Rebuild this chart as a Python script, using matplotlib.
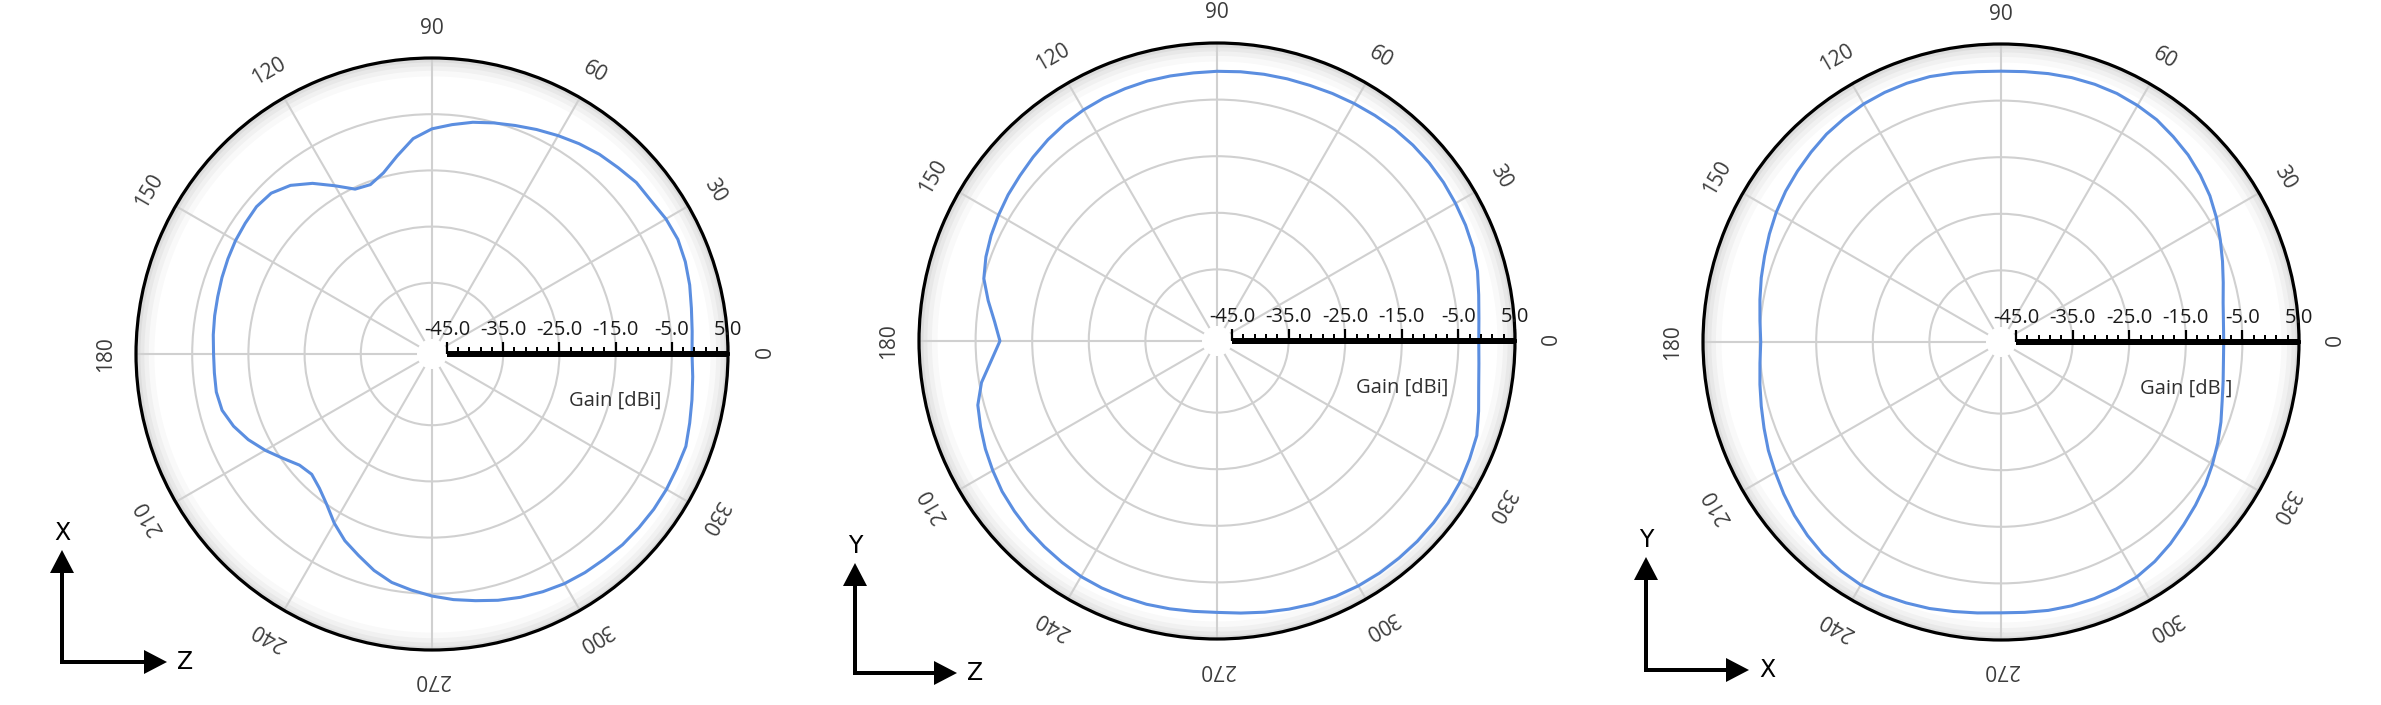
import numpy as np
import matplotlib
matplotlib.use("Agg")
import matplotlib.pyplot as plt
from matplotlib.patches import Polygon
from matplotlib.lines import Line2D
from matplotlib.markers import TICKUP

W, H, DPI = 2381, 705, 100

# ---------------- data ----------------
angles_deg = list(range(0, 360, 5))

gain_xz = [-1.4, -1.2, -0.8, -0.2, 0.3, 0.6, 0.4, -0.1, -0.2, -0.8,
           -1.3, -2.0, -2.8, -3.6, -4.4, -5.1, -5.8, -6.7, -7.6, -9.2,
           -11.9, -14.3, -15.6, -15.3, -13.1, -10.6, -8.5, -7.2, -6.9, -7.1,
           -7.3, -7.6, -7.9, -8.2, -8.4, -8.6, -8.8, -8.8, -8.7, -9.0,
           -10.1, -11.6, -13.4, -15.3, -16.9, -17.4, -16.5, -15.0, -12.9, -11.0,
           -9.5, -7.8, -6.4, -5.5, -4.6, -3.8, -3.1, -2.3, -1.6, -1.0,
           -0.5, -0.2, 0.0, 0.3, 0.4, 0.5, 0.5, 0.4, 0.4, -0.2,
           -0.7, -1.1]

gain_yz = [-1.4, -1.2, -0.7, 0.0, 0.5, 0.8, 1.0, 1.2, 1.3, 1.3,
           1.2, 1.0, 0.8, 0.6, 0.4, 0.3, 0.2, 0.1, 0.0, -0.1,
           -0.1, -0.1, -0.2, -0.3, -0.5, -0.8, -1.2, -1.7, -2.2, -2.6,
           -3.1, -3.6, -4.2, -5.0, -6.6, -8.2, -9.3, -7.6, -5.4, -3.9,
           -3.2, -2.5, -1.9, -1.3, -0.9, -0.5, -0.2, 0.1, 0.4, 0.5,
           0.5, 0.5, 0.4, 0.3, 0.3, 0.6, 1.0, 1.4, 1.8, 2.1,
           2.3, 2.4, 2.4, 2.4, 2.3, 2.2, 2.0, 1.6, 1.2, 0.2,
           -0.7, -1.2]

gain_xy = [-8.3, -8.2, -7.8, -7.0, -6.0, -4.9, -3.7, -2.6, -1.7, -0.9,
           -0.3, 0.3, 0.6, 0.8, 0.8, 0.7, 0.5, 0.3, 0.2, 0.3,
           0.6, 0.9, 1.0, 1.0, 0.9, 0.6, 0.3, -0.2, -0.7, -1.2,
           -1.8, -2.5, -3.2, -3.8, -4.4, -4.9, -5.2, -4.9, -4.4, -3.8,
           -3.1, -2.3, -1.6, -0.8, 0.0, 0.7, 1.3, 1.7, 1.9, 1.7,
           1.4, 1.1, 0.7, 0.4, 0.2, 0.3, 0.5, 0.6, 0.6, 0.5,
           0.3, -0.3, -1.1, -2.0, -2.8, -3.6, -4.5, -5.4, -6.3, -7.2,
           -7.8, -8.2]

series = [gain_xz, gain_yz, gain_xy]

r_min, r_max = -45.0, 5.0
grid_rings = [-35, -25, -15, -5]
scale_major = [-45, -35, -25, -15, -5, 5]
scale_labels = ["-45.0", "-35.0", "-25.0", "-15.0", "-5.0", "5.0"]
scale_minor = [v for v in range(-43, 5, 2) if (v + 45) % 10 != 0]
angle_ticks = list(range(0, 360, 30))
angle_labels = [str(a) for a in angle_ticks]
gain_title = "Gain [dBi]"
axis_names = [("X", "Z"), ("Y", "Z"), ("Y", "X")]

# ---------------- layout (pixels) ----------------
panels = [
    dict(cx=432, cy=354, R=296, corner=(62, 662), up=112, right=105),
    dict(cx=1217, cy=341, R=298, corner=(855, 673), up=110, right=102),
    dict(cx=2001, cy=342, R=298, corner=(1646, 670), up=113, right=103),
]
HOLE_PX = 15
PT = 72.0 / DPI

LINE_COLOR = "#5b8ee0"
GRID_COLOR = "#d0d0d0"
TXT_FONT = ["Open Sans", "DejaVu Sans"]
LABEL_FS = 14.5
ANGLE_FS = 15

fig = plt.figure(figsize=(W / DPI, H / DPI), dpi=DPI)
fig.patch.set_facecolor("white")

# overlay for the coordinate arrows
ov = fig.add_axes([0, 0, 1, 1])
ov.set_xlim(0, W)
ov.set_ylim(H, 0)
ov.axis("off")


def draw_arrow(x0, y0, x1, y1):
    dx, dy = x1 - x0, y1 - y0
    L = np.hypot(dx, dy)
    ux, uy = dx / L, dy / L
    hl, hw = 23, 12
    bx, by = x1 - ux * hl, y1 - uy * hl
    ov.add_line(Line2D([x0, bx + ux * 2], [y0, by + uy * 2], color="black", lw=4 * PT,
                       solid_capstyle="projecting"))
    px, py = -uy, ux
    ov.add_patch(Polygon([[x1, y1], [bx + px * hw, by + py * hw], [bx - px * hw, by - py * hw]],
                         closed=True, color="black", lw=0))


theta_dense = np.linspace(0, 2 * np.pi, 721)

for p, gains, names in zip(panels, series, axis_names):
    cx, cy, R = p["cx"], p["cy"], p["R"]
    ax = fig.add_axes([(cx - R) / W, (H - cy - R) / H, 2 * R / W, 2 * R / H],
                      projection="polar")
    px_per_db = (R - HOLE_PX) / (r_max - r_min)
    ax.set_theta_zero_location("E")
    ax.set_theta_direction(1)
    ax.set_rlim(r_min, r_max)
    ax.set_rorigin(r_min - HOLE_PX / px_per_db)
    ax.set_rticks(grid_rings)
    ax.set_yticklabels([])
    ax.set_thetagrids(angle_ticks, labels=[""] * len(angle_ticks))
    ax.grid(True, color=GRID_COLOR, lw=1.5)
    ax.tick_params(axis="y", length=0)
    ax.tick_params(axis="x", direction="inout", length=11, width=1.5, colors="black",
                   labelsize=1)
    ax.spines["polar"].set_color("black")
    ax.spines["polar"].set_linewidth(2.3)
    ax.spines["inner"].set_color("none")
    ax.spines["inner"].set_linewidth(0)
    ax.patch.set_facecolor("white")

    # soft rim shading
    for k, a in zip([3.2, 2.2, 1.4, 0.7], [0.025, 0.03, 0.035, 0.045]):
        ax.fill_between(theta_dense, r_max - k, r_max, color="black", alpha=a, lw=0, zorder=1)

    # pattern
    th = np.deg2rad(angles_deg + [angles_deg[0]])
    rr = list(gains) + [gains[0]]
    ax.plot(th, rr, color=LINE_COLOR, lw=2.2, zorder=4, solid_joinstyle="round")

    # radial scale bar
    ax.plot([0, 0], [r_min, r_max], color="black", lw=6 * PT, solid_capstyle="butt",
            zorder=6, clip_on=False)
    ax.plot(np.zeros(len(scale_major)), scale_major, ls="none", marker=TICKUP,
            ms=12 * PT, mew=2.2 * PT, color="black", zorder=6, clip_on=False)
    ax.plot(np.zeros(len(scale_minor)), scale_minor, ls="none", marker=TICKUP,
            ms=7 * PT, mew=2.0 * PT, color="black", zorder=6, clip_on=False)
    for v, lab in zip(scale_major, scale_labels):
        ax.annotate(lab, xy=(0, v), xytext=(0, 24 * PT), textcoords="offset points",
                    ha="center", va="center", fontsize=LABEL_FS, color="#1a1a1a",
                    family=TXT_FONT, annotation_clip=False, zorder=7)
    ax.annotate(gain_title, xy=(0, -15), xytext=(0, -47 * PT), textcoords="offset points",
                ha="center", va="center", fontsize=LABEL_FS, color="#2e2e2e",
                family=TXT_FONT, annotation_clip=False)

    # angle labels
    for a, lab in zip(angle_ticks, angle_labels):
        t = np.deg2rad(a)
        d = 30
        ax.annotate(lab, xy=(t, r_max), xytext=(d * np.cos(t) * PT, d * np.sin(t) * PT),
                    textcoords="offset points", ha="center", va="center",
                    rotation=a - 90, rotation_mode="anchor", fontsize=ANGLE_FS,
                    color="#3c3c3c", family=TXT_FONT, annotation_clip=False)

    # coordinate arrows
    x0, y0 = p["corner"]
    draw_arrow(x0, y0, x0, y0 - p["up"])
    draw_arrow(x0, y0, x0 + p["right"], y0)
    ov.text(x0, y0 - p["up"] - 17, names[0], ha="center", va="center", fontsize=17,
            color="black")
    ov.text(x0 + p["right"] + 18, y0, names[1], ha="center", va="center", fontsize=17,
            color="black")

fig.savefig("out.png", dpi=DPI, facecolor="white")
